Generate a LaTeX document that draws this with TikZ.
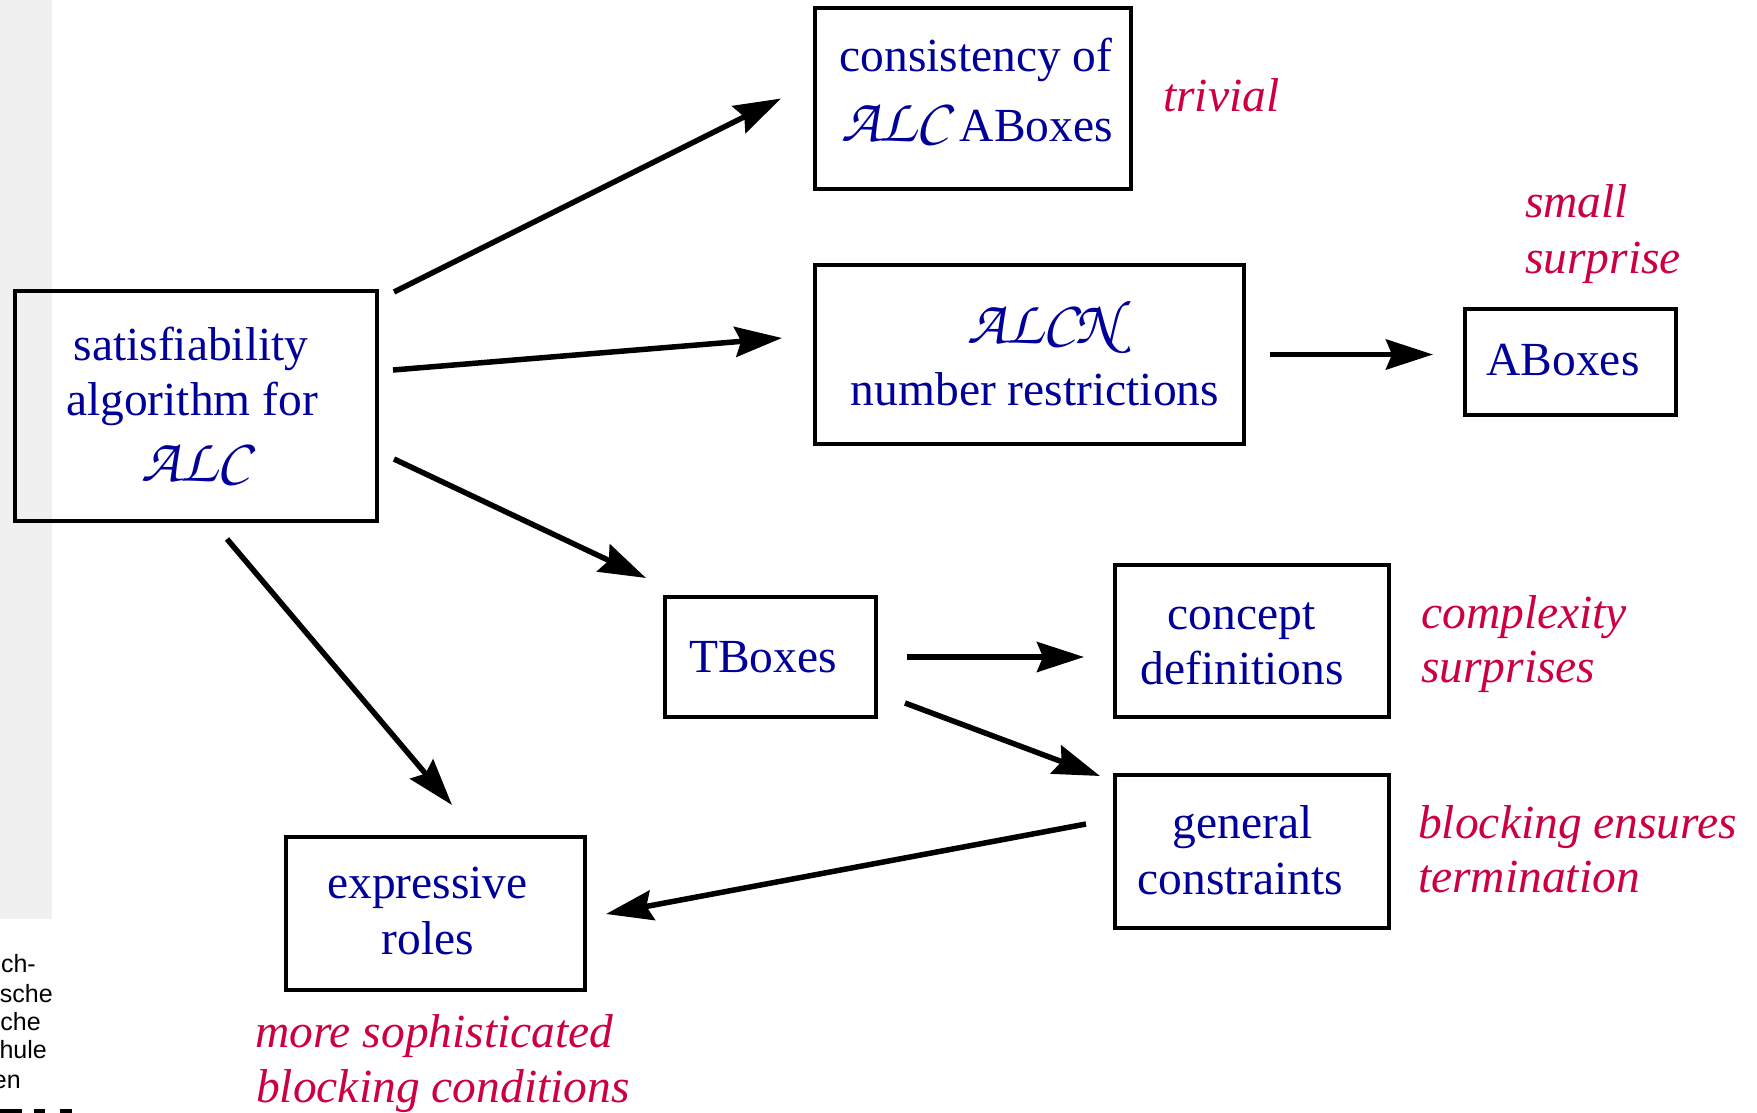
\documentclass[tikz,border=0pt]{standalone}
\usepackage{fontspec}
\setmainfont{Liberation Serif}
\newfontfamily\fragfont{Liberation Sans}
\usetikzlibrary{arrows.meta,calc}

\definecolor{txtblue}{RGB}{0,0,153}
\definecolor{notered}{RGB}{204,0,64}
\definecolor{stripgray}{RGB}{240,240,240}

% calligraphic logic names (Zapf Chancery)
\newcommand\calli[1]{{\fontencoding{OT1}\fontfamily{pzc}\fontseries{mb}\fontshape{it}\fontsize{62}{62}\selectfont #1}}

\tikzset{
  box/.style={draw=black, line width=4pt, rectangle, inner sep=0pt},
  lbl/.style={anchor=base, inner sep=0pt, text=txtblue, font=\fontsize{47.5}{56}\selectfont},
  note/.style={anchor=base west, inner sep=0pt, text=notered, font=\fontsize{47.5}{56}\selectfont\itshape},
  frag/.style={anchor=base east, inner sep=0pt, font=\fragfont\fontsize{25}{29}\selectfont},
  arr/.style={line width=5.5pt, -{Stealth[length=47pt,width=30pt,inset=6pt]}}
}

\begin{document}
\begin{tikzpicture}[x=1pt,y=-1pt]
\useasboundingbox (0,0) rectangle (1757,1113);
\fill[white] (0,0) rectangle (1757,1113);

% side strip and footer fragments
\fill[stripgray] (0,0) rectangle (52,919);
\node[frag] (f1) at (36,972) {ch-};
\node[frag] (f2) at (53,1002) {sche};
\node[frag] (f3) at (41,1030) {che};
\node[frag] (f4) at (47,1058) {hule};
\node[frag] (f5) at (21,1088) {en};
\fill[black] (0,1109) rectangle (22,1113);
\fill[black] (34,1109) rectangle (45,1113);
\fill[black] (60,1109) rectangle (72,1113);

% boxes
\node[box, minimum width=362pt, minimum height=230pt] (sat)    at (196,406) {};
\node[box, minimum width=316pt, minimum height=181pt] (cons)   at (973,98.5) {};
\node[box, minimum width=429pt, minimum height=179pt] (alcn)   at (1029.5,354.5) {};
\node[box, minimum width=211pt, minimum height=106pt] (abox)   at (1570.5,362) {};
\node[box, minimum width=211pt, minimum height=120pt] (tbox)   at (770.5,657) {};
\node[box, minimum width=274pt, minimum height=152pt] (cdef)   at (1252,641) {};
\node[box, minimum width=274pt, minimum height=153pt] (gen)    at (1252,851.5) {};
\node[box, minimum width=299pt, minimum height=153pt] (expr)   at (435.5,913.5) {};

% box texts
\node[lbl] (sat1) at (191,360) {satisfiability};
\node[lbl] (sat2) at (192,415) {algorithm for};
\node[lbl] (sat3) at (195,481) {\calli{ALC}};
\node[lbl] (cons1) at (976,72) {consistency of};
\node[lbl] (cons2) at (977,142) {\calli{ALC} ABoxes};
\node[lbl] (alcn1) at (1043,343) {\calli{ALCN}};
\node[lbl] (alcn2) at (1035,405) {number restrictions};
\node[lbl] (abox1) at (1563,375) {ABoxes};
\node[lbl] (tbox1) at (763,672) {TBoxes};
\node[lbl] (cdef1) at (1241.5,629) {concept};
\node[lbl] (cdef2) at (1242,684) {definitions};
\node[lbl] (gen1) at (1242.5,838) {general};
\node[lbl] (gen2) at (1240.5,894) {constraints};
\node[lbl] (expr1) at (427.5,898) {expressive};
\node[lbl] (expr2) at (428,954) {roles};

% remarks
\node[note] (n1) at (1163,112) {trivial};
\node[note] (n2) at (1525,218) {small};
\node[note] (n3) at (1525,273) {surprise};
\node[note] (n4) at (1421,628) {complexity};
\node[note] (n5) at (1421,682) {surprises};
\node[note] (n6) at (1418,838) {blocking ensures};
\node[note] (n7) at (1418,892) {termination};
\node[note] (n8) at (255,1047) {more sophisticated};
\node[note] (n9) at (256,1102) {blocking conditions};

% connector end points
\coordinate (a1s) at ($(sat.north east)+(15,3)$);
\coordinate (a1e) at ($(cons.west)+(-32,0)$);
\coordinate (a2s) at ($(sat.east)+(14,-36)$);
\coordinate (a2e) at ($(alcn.west)+(-31,-16.5)$);
\coordinate (a3s) at ($(sat.east)+(15,53)$);
\coordinate (a3e) at ($(tbox.north west)+(-17,-17)$);
\coordinate (a4s) at ($(sat.south)+(31,16)$);
\coordinate (a4e) at ($(expr.north)+(16.5,-30)$);
\coordinate (a5s) at ($(alcn.east)+(24,0)$);
\coordinate (a5e) at ($(a5s -| abox.west)+(-30,0)$);
\coordinate (a6s) at ($(tbox.east)+(29,0)$);
\coordinate (a6e) at ($(a6s -| cdef.west)+(-29,0)$);
\coordinate (a7s) at ($(tbox.south east)+(27,-16)$);
\coordinate (a7e) at ($(gen.north west)+(-13,3)$);
\coordinate (a8s) at ($(gen.west)+(-27,-27.5)$);
\coordinate (a8e) at ($(expr.east)+(19,0.5)$);

% connectors
\draw[arr] (a1s) -- (a1e);
\draw[arr] (a2s) -- (a2e);
\draw[arr] (a3s) -- (a3e);
\draw[arr] (a4s) -- (a4e);
\draw[arr] (a5s) -- (a5e);
\draw[arr] (a6s) -- (a6e);
\draw[arr] (a7s) -- (a7e);
\draw[arr] (a8s) -- (a8e);
\end{tikzpicture}
\end{document}
